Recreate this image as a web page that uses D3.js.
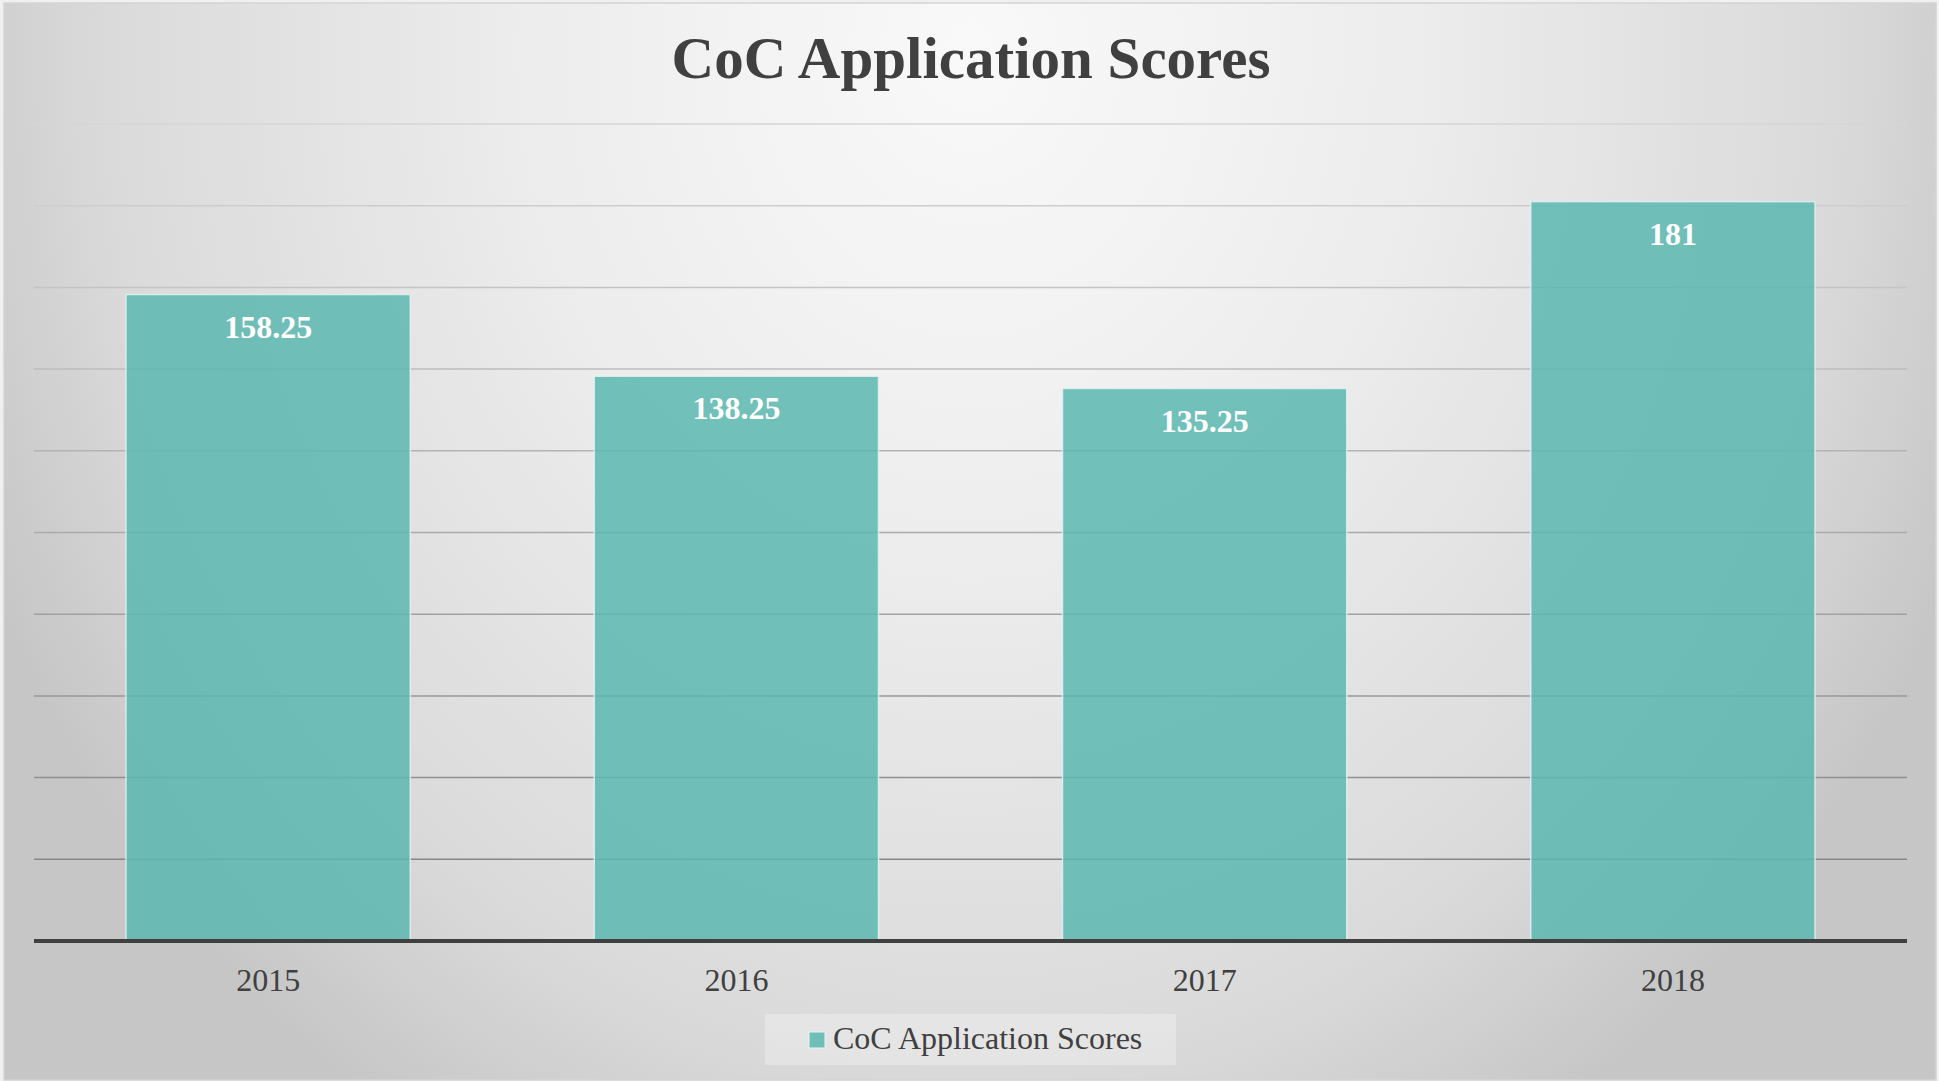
<!DOCTYPE html>
<html><head><meta charset="utf-8">
<script src="https://cdn.jsdelivr.net/npm/d3@7"></script>
<style>html,body{margin:0;padding:0;background:#f0f0f0;overflow:hidden}</style>
</head><body><svg id="c" width="1939" height="1081"></svg>
<script>
const categories = ["2015", "2016", "2017", "2018"];
const scores = [158.25, 138.25, 135.25, 181];
const yTicks = [0, 20, 40, 60, 80, 100, 120, 140, 160, 180, 200];
const seriesName = "CoC Application Scores";
const chartTitle = "CoC Application Scores";

const svg = d3.select("#c");
const W = 1939, H = 1081;
const plot = {left: 34, right: 1907, top: 124, bottom: 941};
const serif = "'Liberation Serif','Times New Roman',serif";

const defs = svg.append("defs");
const rg = defs.append("radialGradient").attr("id", "bg")
  .attr("cx", 0.5).attr("cy", 0.02).attr("r", 0.56)
  .attr("gradientTransform", "translate(0.5,0) scale(1,2.1) translate(-0.5,0)");
[[0, "#f9f9f9"], [0.4, "#ededed"], [0.8, "#dadada"], [0.9, "#d0d0d0"], [1, "#c6c6c6"]]
  .forEach(([o, c]) => rg.append("stop").attr("offset", o).attr("stop-color", c));

svg.append("rect").attr("x", 4).attr("y", 3).attr("width", 1932).attr("height", 1077)
  .attr("fill", "url(#bg)").attr("stroke", "#d4d4d4").attr("stroke-width", 1.5);

const x = d3.scaleBand().domain(categories).range([plot.left, plot.right])
  .paddingInner(0.393).paddingOuter(0.1965);
const y = d3.scaleLinear().domain([0, 200]).range([plot.bottom, plot.top]);
const gridColor = d3.scaleLinear().domain([0, 200]).range(["#7e7e7e", "#d6d6d6"]);

// gridlines
svg.append("g").selectAll("line").data(yTicks.filter(t => t > 0)).join("line")
  .attr("x1", plot.left).attr("x2", plot.right)
  .attr("y1", d => y(d)).attr("y2", d => y(d))
  .attr("stroke", d => gridColor(d)).attr("stroke-width", 1.5);

// bars
svg.append("g").selectAll("rect").data(scores).join("rect")
  .attr("x", (d, i) => x(categories[i]))
  .attr("width", x.bandwidth())
  .attr("y", d => y(d))
  .attr("height", d => y(0) - y(d))
  .attr("fill", "#5cb7b0").attr("fill-opacity", 0.85)
  .attr("stroke", "#e6f4f2").attr("stroke-opacity", 0.8).attr("stroke-width", 1.5);

// axis baseline via d3 axis
const xAxis = svg.append("g").attr("transform", `translate(0,${plot.bottom})`)
  .call(d3.axisBottom(x).tickSize(0).tickPadding(0));
xAxis.select(".domain").attr("stroke", "#404040").attr("stroke-width", 4)
  .attr("d", `M${plot.left},0H${plot.right}`);
xAxis.selectAll(".tick text")
  .attr("y", 50).attr("dy", null)
  .attr("fill", "#404040").style("font-family", serif).style("font-size", "32px");

// data labels
svg.append("g").selectAll("text").data(scores).join("text")
  .attr("x", (d, i) => x(categories[i]) + x.bandwidth() / 2)
  .attr("y", d => y(d) + 43)
  .attr("text-anchor", "middle")
  .attr("fill", "#ffffff").style("font-family", serif).style("font-weight", "bold")
  .style("font-size", "32px")
  .text(d => d);

// title
svg.append("text").attr("x", 971).attr("y", 78).attr("text-anchor", "middle")
  .attr("fill", "#404040").style("font-family", serif).style("font-weight", "bold")
  .style("font-size", "59px").text(chartTitle);

// legend
const lg = svg.append("g");
lg.append("rect").attr("x", 765).attr("y", 1014).attr("width", 411).attr("height", 51)
  .attr("fill", "#ffffff").attr("fill-opacity", 0.28);
lg.append("rect").attr("x", 809).attr("y", 1032).attr("width", 16).attr("height", 16)
  .attr("fill", "#5cb7b0").attr("fill-opacity", 0.85)
  .attr("stroke", "#e6f4f2").attr("stroke-width", 1);
lg.append("text").attr("x", 833).attr("y", 1049)
  .attr("fill", "#404040").style("font-family", serif).style("font-size", "32px")
  .text(seriesName);
</script>
</body></html>
